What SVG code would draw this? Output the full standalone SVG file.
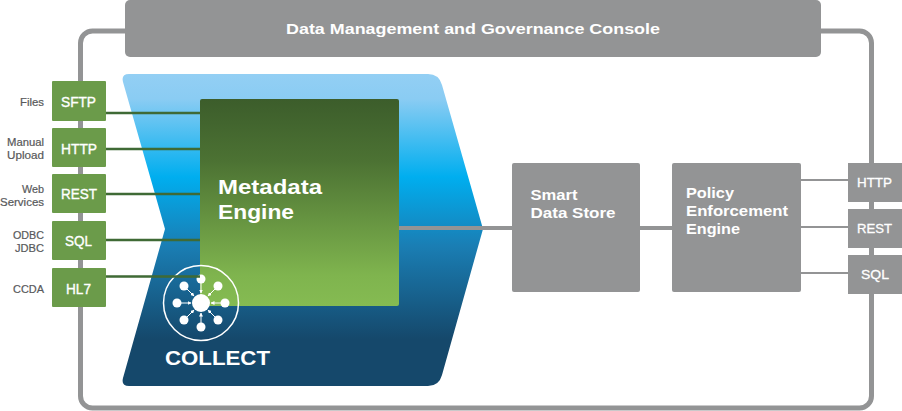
<svg xmlns="http://www.w3.org/2000/svg" width="902" height="411" viewBox="0 0 902 411">
<style>
text{font-family:"Liberation Sans",Arial,sans-serif;font-weight:bold}
.src{fill:#6b9b4a}.gr{fill:#939495}
.t{fill:#fff;font-size:14px;font-weight:normal;stroke:#fff;stroke-width:.35}
.rt{fill:#fff;font-size:13.500px;font-weight:normal;stroke:#fff;stroke-width:.3}
.l{fill:#58595b;font-size:10.500px;font-weight:normal;stroke:#58595b;stroke-width:.2}
.h{fill:#fff;font-size:14px}
.g{stroke:#3f6a35;stroke-width:2.400;fill:none}
.c{stroke:#939495;fill:none}
.sp{stroke:#fff;stroke-width:1;fill:none;marker-end:url(#a)}
</style>
<defs>
<linearGradient id="blue" gradientUnits="userSpaceOnUse" x1="0" y1="74" x2="0" y2="386">
<stop offset="0" stop-color="#93cff4"/><stop offset=".08" stop-color="#8accf3"/><stop offset=".33" stop-color="#00aeef"/><stop offset=".55" stop-color="#1a7eb4"/><stop offset=".85" stop-color="#15486b"/><stop offset="1" stop-color="#15486b"/>
</linearGradient>
<linearGradient id="green" x1="0" y1="0" x2="0" y2="1">
<stop offset="0" stop-color="#3c5d2b"/><stop offset=".3" stop-color="#4c7233"/><stop offset=".85" stop-color="#7fb44e"/><stop offset="1" stop-color="#85bb52"/>
</linearGradient>
<marker id="a" markerUnits="userSpaceOnUse" markerWidth="4" markerHeight="4" refX="3.500" refY="2" orient="auto"><path d="M0 0L4 2L0 4Z" fill="#fff"/></marker>
</defs>
<g id="connectors">
<rect class="c" x="80.500" y="31" width="791" height="377" rx="12" stroke-width="5"/>
<path class="c" stroke-width="4" d="M399 228H512M640 228H672"/>
<path class="c" stroke-width="2" d="M801 180H848M801 227H848M801 273H848"/>
</g>
<g id="console"><rect class="gr" x="125" y="0" width="696" height="57" rx="5"/><text class="h" x="286" y="34" textLength="374" lengthAdjust="spacingAndGlyphs">Data Management and Governance Console</text></g>
<g id="collect">
<path fill="url(#blue)" d="M129 74H428Q439 74 442 85L483 229L442 375Q439 386 428 386H129Q121 386 123 378L165 229L123 82Q121 74 129 74Z"/>
<rect x="200" y="99" width="199" height="207" rx="2" fill="url(#green)"/>
<path stroke="#939495" stroke-width="4" d="M399 228H483"/>
<circle cx="201" cy="303" r="37.500" fill="none" stroke="#fff" stroke-width="1.500"/>
<g fill="#fff">
<circle cx="201" cy="303" r="9"/><circle cx="201" cy="279" r="4.500"/><circle cx="201" cy="327" r="4.500"/><circle cx="177" cy="303" r="4.500"/><circle cx="225" cy="303" r="4.500"/><circle cx="184" cy="286" r="4.500"/><circle cx="218" cy="286" r="4.500"/><circle cx="184" cy="320" r="4.500"/><circle cx="218" cy="320" r="4.500"/>
</g>
<path class="sp" d="M201 283V293"/><path class="sp" d="M201 323V313"/><path class="sp" d="M181 303H191"/><path class="sp" d="M221 303H211"/><path class="sp" d="M187 289L194 296"/><path class="sp" d="M215 289L208 296"/><path class="sp" d="M187 317L194 310"/><path class="sp" d="M215 317L208 310"/>
<text x="165" y="365" fill="#fff" font-size="21" textLength="105" lengthAdjust="spacingAndGlyphs">COLLECT</text>
</g>
<g id="metadata-engine"><text x="218" y="194" fill="#fff" font-size="20" textLength="104" lengthAdjust="spacingAndGlyphs">Metadata</text><text x="218" y="219" fill="#fff" font-size="20" textLength="76" lengthAdjust="spacingAndGlyphs">Engine</text></g>
<g id="source-lines"><path class="g" d="M106 113H200M106 149H200M106 194H200M106 240H200M106 276.500H200"/></g>
<g id="sftp"><rect class="src" x="52" y="81" width="54" height="40" rx="1"/><text class="t" x="61" y="107" textLength="35" lengthAdjust="spacingAndGlyphs">SFTP</text><text class="l" x="20" y="106" textLength="24" lengthAdjust="spacingAndGlyphs">Files</text></g>
<g id="http-in"><rect class="src" x="52" y="128" width="54" height="39" rx="1"/><text class="t" x="61" y="154" textLength="36" lengthAdjust="spacingAndGlyphs">HTTP</text><text class="l" x="7" y="146" textLength="37" lengthAdjust="spacingAndGlyphs">Manual</text><text class="l" x="7" y="159" textLength="37" lengthAdjust="spacingAndGlyphs">Upload</text></g>
<g id="rest-in"><rect class="src" x="52" y="174" width="54" height="39" rx="1"/><text class="t" x="61" y="199" textLength="36" lengthAdjust="spacingAndGlyphs">REST</text><text class="l" x="22" y="193" textLength="22" lengthAdjust="spacingAndGlyphs">Web</text><text class="l" x="0" y="206" textLength="44" lengthAdjust="spacingAndGlyphs">Services</text></g>
<g id="sql-in"><rect class="src" x="52" y="221" width="54" height="39" rx="1"/><text class="t" x="65" y="246" textLength="27" lengthAdjust="spacingAndGlyphs">SQL</text><text class="l" x="13" y="239" textLength="31" lengthAdjust="spacingAndGlyphs">ODBC</text><text class="l" x="15" y="252" textLength="29" lengthAdjust="spacingAndGlyphs">JDBC</text></g>
<g id="hl7"><rect class="src" x="52" y="268" width="54" height="39" rx="1"/><text class="t" x="66" y="294" textLength="25" lengthAdjust="spacingAndGlyphs">HL7</text><text class="l" x="13" y="293" textLength="31" lengthAdjust="spacingAndGlyphs">CCDA</text></g>
<g id="smart-data-store"><rect class="gr" x="512" y="163" width="128" height="129" rx="2"/><text class="h" x="530.500" y="200" textLength="47" lengthAdjust="spacingAndGlyphs">Smart</text><text class="h" x="530.500" y="218" textLength="85" lengthAdjust="spacingAndGlyphs">Data Store</text></g>
<g id="policy-engine"><rect class="gr" x="672" y="163" width="129" height="129" rx="2"/><text class="h" x="686" y="198" textLength="48" lengthAdjust="spacingAndGlyphs">Policy</text><text class="h" x="686" y="216" textLength="102" lengthAdjust="spacingAndGlyphs">Enforcement</text><text class="h" x="686" y="234" textLength="54" lengthAdjust="spacingAndGlyphs">Engine</text></g>
<g id="http-out"><rect class="gr" x="848" y="163" width="54" height="39"/><text class="rt" x="857" y="187" textLength="35" lengthAdjust="spacingAndGlyphs">HTTP</text></g>
<g id="rest-out"><rect class="gr" x="848" y="209" width="54" height="39"/><text class="rt" x="857" y="233" textLength="35" lengthAdjust="spacingAndGlyphs">REST</text></g>
<g id="sql-out"><rect class="gr" x="848" y="255" width="54" height="39"/><text class="rt" x="861" y="279" textLength="28" lengthAdjust="spacingAndGlyphs">SQL</text></g>
</svg>
